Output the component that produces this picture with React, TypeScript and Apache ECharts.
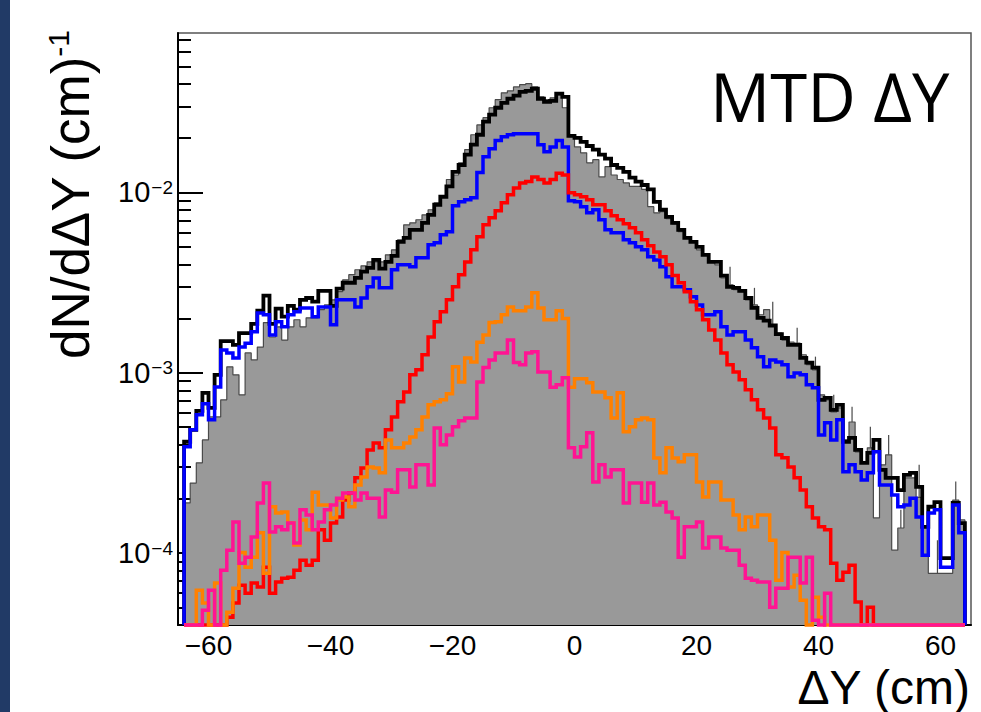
import React, { useEffect, useRef } from "react";
import * as echarts from "echarts";

// Histogram binning: 128 bins of 1 cm from -64 to 64
const BIN_LOW = -64;
const BIN_WIDTH = 1;

// Axis ranges
const X_MIN = -65;
const X_MAX = 65;
const Y_MIN = 4e-5;
const Y_MAX = 0.0766;

// Tick values
const xMajorTicks = [-60, -40, -20, 0, 20, 40, 60];
const xMinorTicks = [-55, -50, -45, -35, -30, -25, -15, -10, -5, 5, 10, 15, 25, 30, 35, 45, 50, 55];
const yMajorTicks = [1e-4, 1e-3, 1e-2];
const yMinorTicks = [
  5e-5, 6e-5, 7e-5, 8e-5, 9e-5,
  2e-4, 3e-4, 4e-4, 5e-4, 6e-4, 7e-4, 8e-4, 9e-4,
  2e-3, 3e-3, 4e-3, 5e-3, 6e-3, 7e-3, 8e-3, 9e-3,
  2e-2, 3e-2, 4e-2, 5e-2, 6e-2, 7e-2,
];

// Data histogram (grey filled)
const grayData = [
  1.90e-4, 2.45e-4, 3.17e-4, 4.25e-4, 5.70e-4, 5.70e-4, 7.09e-4, 1.08e-3, 9.75e-4, 7.55e-4,
  1.29e-3, 1.18e-3, 1.39e-3, 1.90e-3, 1.58e-3, 1.80e-3, 1.52e-3, 1.80e-3, 1.97e-3, 1.80e-3,
  2.02e-3, 2.02e-3, 2.24e-3, 2.38e-3, 2.54e-3, 2.82e-3, 3.28e-3, 3.50e-3, 3.73e-3, 3.92e-3,
  4.12e-3, 4.12e-3, 4.12e-3, 4.51e-3, 4.81e-3, 5.47e-3, 6.62e-3, 6.79e-3, 7.06e-3, 7.52e-3,
  8.02e-3, 8.77e-3, 9.47e-3, 1.18e-2, 1.25e-2, 1.46e-2, 1.73e-2, 2.09e-2, 2.37e-2, 2.60e-2,
  2.95e-2, 3.27e-2, 3.57e-2, 3.66e-2, 3.85e-2, 3.96e-2, 4.01e-2, 3.85e-2, 3.39e-2, 3.27e-2,
  3.35e-2, 3.48e-2, 2.95e-2, 2.04e-2, 1.79e-2, 1.66e-2, 1.46e-2, 1.52e-2, 1.22e-2, 1.39e-2,
  1.25e-2, 1.18e-2, 1.13e-2, 1.08e-2, 1.08e-2, 1.04e-2, 8.34e-3, 7.71e-3, 7.82e-3, 7.15e-3,
  6.70e-3, 6.06e-3, 5.60e-3, 5.33e-3, 4.81e-3, 4.51e-3, 4.12e-3, 3.97e-3, 3.36e-3, 3.08e-3,
  2.89e-3, 2.82e-3, 2.54e-3, 2.38e-3, 2.10e-3, 2.24e-3, 1.85e-3, 1.66e-3, 1.52e-3, 1.48e-3,
  1.46e-3, 1.26e-3, 1.11e-3, 1.04e-3, 7.55e-4, 7.09e-4, 6.08e-4, 6.40e-4, 4.25e-4, 5.34e-4,
  3.65e-4, 3.21e-4, 3.84e-4, 1.57e-4, 3.09e-4, 3.51e-4, 1.04e-4, 1.38e-4, 2.62e-4, 2.62e-4,
  2.04e-4, 1.40e-4, 7.74e-5, 7.74e-5, 7.74e-5, 7.74e-5, 1.97e-4, 1.53e-4,
];

// Upper ends of the data error bars that stick out: [bin index, upper value]
const grayErrTop: [number, number][] = [
  [89, 3.87e-3], [93, 2.96e-3], [96, 2.48e-3], [100, 1.78e-3], [103, 1.23e-3],
  [106, 7.55e-4], [109, 6.48e-4], [112, 5.02e-4], [115, 4.53e-4], [117, 1.74e-4],
  [120, 3.09e-4], [123, 1.18e-4], [126, 2.50e-4],
];

// Total (black)
const blackData = [
  4.15e-4, 4.83e-4, 6.16e-4, 7.75e-4, 6.40e-4, 9.75e-4, 1.50e-3, 1.50e-3, 1.43e-3, 1.66e-3,
  1.66e-3, 1.87e-3, 2.21e-3, 2.68e-3, 1.87e-3, 2.27e-3, 2.05e-3, 2.35e-3, 2.24e-3, 2.54e-3,
  2.60e-3, 2.48e-3, 2.85e-3, 2.85e-3, 2.35e-3, 2.93e-3, 3.16e-3, 3.16e-3, 3.36e-3, 3.64e-3,
  3.82e-3, 4.23e-3, 3.78e-3, 4.12e-3, 4.45e-3, 5.33e-3, 5.60e-3, 6.21e-3, 6.21e-3, 6.79e-3,
  7.52e-3, 8.55e-3, 9.47e-3, 1.08e-2, 1.30e-2, 1.42e-2, 1.62e-2, 1.84e-2, 2.09e-2, 2.47e-2,
  2.70e-2, 2.95e-2, 3.14e-2, 3.31e-2, 3.44e-2, 3.61e-2, 3.66e-2, 3.76e-2, 3.31e-2, 3.18e-2,
  3.22e-2, 3.53e-2, 3.39e-2, 2.06e-2, 2.01e-2, 1.91e-2, 1.81e-2, 1.73e-2, 1.62e-2, 1.54e-2,
  1.42e-2, 1.37e-2, 1.30e-2, 1.21e-2, 1.15e-2, 1.10e-2, 1.04e-2, 8.88e-3, 8.02e-3, 7.33e-3,
  6.79e-3, 6.21e-3, 5.60e-3, 5.33e-3, 5.00e-3, 4.51e-3, 4.12e-3, 4.12e-3, 3.46e-3, 3.00e-3,
  2.96e-3, 2.85e-3, 2.60e-3, 2.29e-3, 2.02e-3, 1.95e-3, 1.83e-3, 1.64e-3, 1.56e-3, 1.43e-3,
  1.43e-3, 1.21e-3, 1.14e-3, 1.07e-3, 7.09e-4, 7.27e-4, 6.24e-4, 6.65e-4, 4.15e-4, 4.36e-4,
  3.74e-4, 3.17e-4, 3.60e-4, 4.25e-4, 2.90e-4, 2.62e-4, 2.62e-4, 2.24e-4, 2.72e-4, 2.79e-4,
  2.33e-4, 1.40e-4, 1.81e-4, 1.92e-4, 9.40e-5, 9.40e-5, 1.90e-4, 1.47e-4,
];

// Blue component
const blueData = [
  3.89e-4, 4.83e-4, 5.85e-4, 6.74e-4, 5.49e-4, 8.36e-4, 1.34e-3, 1.29e-3, 1.21e-3, 1.39e-3,
  1.46e-3, 1.69e-3, 2.15e-3, 2.10e-3, 1.62e-3, 1.92e-3, 1.80e-3, 2.10e-3, 2.18e-3, 2.29e-3,
  2.29e-3, 2.05e-3, 2.32e-3, 2.32e-3, 1.85e-3, 2.54e-3, 2.54e-3, 2.54e-3, 2.32e-3, 2.60e-3,
  3.00e-3, 3.36e-3, 2.96e-3, 2.96e-3, 3.73e-3, 3.97e-3, 3.97e-3, 3.87e-3, 4.34e-3, 4.34e-3,
  5.13e-3, 5.26e-3, 5.83e-3, 6.06e-3, 8.45e-3, 8.88e-3, 9.11e-3, 9.35e-3, 1.29e-2, 1.58e-2,
  1.75e-2, 1.94e-2, 2.04e-2, 2.09e-2, 2.12e-2, 2.12e-2, 2.12e-2, 2.12e-2, 1.84e-2, 1.68e-2,
  1.79e-2, 1.94e-2, 1.79e-2, 8.99e-3, 8.88e-3, 8.34e-3, 7.71e-3, 8.02e-3, 7.06e-3, 6.21e-3,
  5.98e-3, 5.98e-3, 5.47e-3, 5.26e-3, 5.00e-3, 4.81e-3, 4.40e-3, 4.23e-3, 3.87e-3, 3.41e-3,
  3.00e-3, 3.00e-3, 2.89e-3, 2.64e-3, 2.38e-3, 2.10e-3, 2.10e-3, 2.18e-3, 1.80e-3, 1.62e-3,
  1.69e-3, 1.69e-3, 1.52e-3, 1.38e-3, 1.23e-3, 1.08e-3, 1.18e-3, 1.15e-3, 1.11e-3, 9.51e-4,
  9.98e-4, 9.75e-4, 8.58e-4, 8.26e-4, 4.53e-4, 5.29e-4, 4.25e-4, 5.49e-4, 2.83e-4, 3.09e-4,
  2.83e-4, 2.55e-4, 2.79e-4, 3.65e-4, 2.39e-4, 2.39e-4, 2.10e-4, 1.81e-4, 1.85e-4, 2.02e-4,
  1.59e-4, 9.75e-5, 1.67e-4, 1.74e-4, 8.36e-5, 8.36e-5, 1.85e-4, 1.30e-4,
];

// Red component
const redData = [
  0, 0, 0, 0, 0, 0, 0, 4.41e-5, 5.29e-5, 6.65e-5,
  6.00e-5, 6.83e-5, 6.49e-5, 8.36e-5, 6.00e-5, 6.92e-5, 7.27e-5, 7.37e-5, 8.05e-5, 9.15e-5,
  8.58e-5, 9.15e-5, 1.35e-4, 1.18e-4, 1.47e-4, 1.59e-4, 1.97e-4, 2.16e-4, 2.62e-4, 2.97e-4,
  3.74e-4, 4.09e-4, 3.84e-4, 4.83e-4, 5.70e-4, 6.91e-4, 7.84e-4, 9.75e-4, 1.04e-3, 1.26e-3,
  1.58e-3, 1.92e-3, 2.18e-3, 2.54e-3, 3.00e-3, 3.50e-3, 4.12e-3, 4.81e-3, 5.68e-3, 6.62e-3,
  7.24e-3, 7.92e-3, 8.77e-3, 9.71e-3, 1.06e-2, 1.13e-2, 1.15e-2, 1.22e-2, 1.18e-2, 1.13e-2,
  1.18e-2, 1.28e-2, 1.25e-2, 9.97e-3, 9.71e-3, 9.47e-3, 9.11e-3, 8.55e-3, 8.55e-3, 7.92e-3,
  7.42e-3, 7.06e-3, 6.70e-3, 6.38e-3, 5.98e-3, 5.47e-3, 5.07e-3, 4.68e-3, 4.40e-3, 3.97e-3,
  3.46e-3, 3.16e-3, 2.82e-3, 2.48e-3, 2.24e-3, 1.97e-3, 1.73e-3, 1.52e-3, 1.29e-3, 1.11e-3,
  1.01e-3, 9.15e-4, 8.05e-4, 7.09e-4, 6.24e-4, 5.62e-4, 4.95e-4, 3.51e-4, 3.38e-4, 3.01e-4,
  2.62e-4, 2.24e-4, 1.81e-4, 1.57e-4, 1.40e-4, 1.35e-4, 8.81e-5, 7.09e-5, 7.84e-5, 8.58e-5,
  5.36e-5, 0, 5.02e-5, 0, 0, 0, 0, 0, 0, 0,
  0, 0, 0, 0, 0, 0, 0, 0,
];

// Orange component
const orangeData = [
  0, 0, 6.24e-5, 5.29e-5, 0, 6.83e-5, 0, 4.71e-5, 6.40e-5, 1.01e-4,
  8.36e-5, 9.51e-5, 1.30e-4, 7.74e-5, 1.81e-4, 1.67e-4, 1.69e-4, 1.47e-4, 1.11e-4, 1.53e-4,
  1.35e-4, 2.18e-4, 1.85e-4, 1.85e-4, 1.57e-4, 1.97e-4, 2.05e-4, 1.81e-4, 2.39e-4, 2.65e-4,
  3.01e-4, 2.97e-4, 2.79e-4, 4.25e-4, 3.84e-4, 3.84e-4, 4.09e-4, 4.41e-4, 4.83e-4, 5.70e-4,
  6.65e-4, 6.91e-4, 7.09e-4, 7.65e-4, 1.08e-3, 8.91e-4, 1.21e-3, 1.15e-3, 1.48e-3, 1.62e-3,
  1.90e-3, 1.92e-3, 2.10e-3, 2.32e-3, 2.21e-3, 2.21e-3, 2.32e-3, 2.78e-3, 2.29e-3, 1.97e-3,
  1.97e-3, 2.21e-3, 2.00e-3, 8.33e-4, 9.27e-4, 9.27e-4, 8.81e-4, 7.84e-4, 7.84e-4, 7.27e-4,
  5.62e-4, 7.75e-4, 4.71e-4, 5.02e-4, 5.49e-4, 5.62e-4, 5.49e-4, 3.37e-4, 2.79e-4, 3.84e-4,
  3.37e-4, 3.21e-4, 3.51e-4, 3.51e-4, 2.48e-4, 2.05e-4, 2.48e-4, 2.48e-4, 1.97e-4, 1.97e-4,
  1.63e-4, 1.35e-4, 1.59e-4, 1.40e-4, 1.63e-4, 1.63e-4, 1.18e-4, 7.09e-5, 1.01e-4, 6.49e-5,
  7.55e-5, 5.49e-5, 0, 5.70e-5, 4.41e-5, 0, 0, 0, 0, 0,
  0, 0, 0, 0, 0, 0, 0, 0, 0, 0,
  0, 0, 0, 0, 0, 0, 0, 0,
];

// Pink component
const pinkData = [
  0, 0, 0, 4.83e-5, 6.24e-5, 0, 8.05e-5, 1.04e-4, 1.49e-4, 8.81e-5,
  9.51e-5, 1.23e-4, 1.90e-4, 2.45e-4, 1.31e-4, 1.40e-4, 1.35e-4, 1.47e-4, 1.14e-4, 1.74e-4,
  1.63e-4, 1.35e-4, 1.49e-4, 1.74e-4, 1.85e-4, 2.02e-4, 2.16e-4, 2.16e-4, 1.97e-4, 2.16e-4,
  2.02e-4, 2.02e-4, 1.59e-4, 2.24e-4, 2.18e-4, 2.90e-4, 2.90e-4, 2.33e-4, 3.09e-4, 3.09e-4,
  2.39e-4, 4.95e-4, 3.99e-4, 4.53e-4, 5.02e-4, 5.42e-4, 5.62e-4, 5.62e-4, 8.91e-4, 1.07e-3,
  1.18e-3, 1.29e-3, 1.29e-3, 1.52e-3, 1.14e-3, 1.11e-3, 1.29e-3, 1.31e-3, 1.01e-3, 1.01e-3,
  8.33e-4, 8.58e-4, 9.38e-4, 3.84e-4, 3.42e-4, 3.89e-4, 4.65e-4, 2.48e-4, 3.09e-4, 2.65e-4,
  2.90e-4, 2.90e-4, 1.90e-4, 2.45e-4, 2.45e-4, 1.92e-4, 2.45e-4, 1.85e-4, 1.92e-4, 1.69e-4,
  1.57e-4, 9.51e-5, 1.40e-4, 1.40e-4, 1.49e-4, 1.07e-4, 1.23e-4, 1.23e-4, 1.07e-4, 1.04e-4,
  1.04e-4, 8.58e-5, 7.27e-5, 7.09e-5, 6.92e-5, 6.92e-5, 5.02e-5, 6.40e-5, 6.40e-5, 9.51e-5,
  9.51e-5, 6.83e-5, 9.51e-5, 4.25e-5, 0, 6.00e-5, 0, 0, 0, 0,
  0, 0, 0, 0, 0, 0, 0, 0, 0, 0,
  0, 0, 0, 0, 0, 0, 0, 0,
];

const FONT = "'Liberation Sans', Arial, Helvetica, sans-serif";

// Empty bins of a log-scale histogram are drawn on the lower frame edge (as ROOT does)
function clampLow(v: number) {
  return v > Y_MIN ? v : Y_MIN;
}

// Step outline of a histogram: left edges + closing drop at both ends
function histPoints(vals: number[]) {
  const pts: number[][] = [[BIN_LOW, Y_MIN]];
  vals.forEach((v, i) => pts.push([BIN_LOW + i * BIN_WIDTH, clampLow(v)]));
  const end = BIN_LOW + vals.length * BIN_WIDTH;
  pts.push([end, clampLow(vals[vals.length - 1])]);
  pts.push([end, Y_MIN]);
  return pts;
}

function histSeries(name: string, vals: number[], color: string, width: number) {
  return {
    name,
    type: "line",
    step: "end",
    data: histPoints(vals),
    symbol: "none",
    clip: false,
    silent: true,
    lineStyle: { color, width, join: "miter" },
  };
}

function minusFmt(v: number) {
  return v < 0 ? "\u2212" + Math.abs(v) : String(v);
}

function buildOption() {
  const errData = grayErrTop.map(([i, top]) => {
    const v = grayData[i];
    const lo = Math.max(2 * v - top, Y_MIN);
    return [BIN_LOW + (i + 0.5) * BIN_WIDTH, lo, top];
  });

  return {
    animation: false,
    backgroundColor: "#ffffff",
    grid: {
      left: 178,
      right: 10,
      top: 33,
      bottom: 87,
      show: true,
      borderColor: "#555555",
      borderWidth: 1.5,
      backgroundColor: "transparent",
    },
    xAxis: [
      {
        type: "value",
        position: "bottom",
        min: X_MIN,
        max: X_MAX,
        axisLine: { show: true, onZero: false, lineStyle: { color: "#000", width: 2 } },
        axisTick: {
          show: true,
          inside: true,
          length: 17,
          customValues: xMajorTicks,
          lineStyle: { color: "#000", width: 2 },
        },
        axisLabel: {
          show: true,
          customValues: xMajorTicks,
          formatter: (v: number) => minusFmt(v),
          fontFamily: FONT,
          fontSize: 28,
          lineHeight: 24,
          color: "#000",
          margin: 8,
        },
        splitLine: { show: false },
      },
      {
        type: "value",
        position: "bottom",
        min: X_MIN,
        max: X_MAX,
        axisLine: { show: false, onZero: false },
        axisTick: {
          show: true,
          inside: true,
          length: 9,
          customValues: xMinorTicks,
          lineStyle: { color: "#000", width: 2 },
        },
        axisLabel: { show: false },
        splitLine: { show: false },
      },
    ],
    yAxis: [
      {
        type: "log",
        logBase: 10,
        position: "left",
        min: Y_MIN,
        max: Y_MAX,
        axisLine: { show: true, onZero: false, lineStyle: { color: "#000", width: 2 } },
        axisTick: {
          show: true,
          inside: true,
          length: 25,
          customValues: yMajorTicks,
          lineStyle: { color: "#000", width: 2 },
        },
        axisLabel: {
          show: true,
          customValues: yMajorTicks,
          margin: 5,
          formatter: (v: number) => {
            const e = Math.round(Math.log10(v));
            return `{b|10}{s|${minusFmt(e)}}`;
          },
          rich: {
            b: { fontFamily: FONT, fontSize: 29, color: "#000" },
            s: { fontFamily: FONT, fontSize: 19, color: "#000", verticalAlign: "top", padding: [0, 0, 0, 1] },
          },
        },
        splitLine: { show: false },
      },
      {
        type: "log",
        logBase: 10,
        position: "left",
        min: Y_MIN,
        max: Y_MAX,
        axisLine: { show: false, onZero: false },
        axisTick: {
          show: true,
          inside: true,
          length: 13,
          customValues: yMinorTicks,
          lineStyle: { color: "#000", width: 2 },
        },
        axisLabel: { show: false },
        splitLine: { show: false },
      },
    ],
    graphic: [
      {
        type: "rect",
        shape: { x: 0, y: 0, width: 10, height: 712 },
        style: { fill: "#213a66" },
        silent: true,
      },
      {
        type: "text",
        x: 710,
        y: 96,
        style: {
          text: "MTD \u0394Y",
          fontFamily: "'Open Sans', 'Noto Sans', sans-serif",
          fontSize: 67,
          fill: "#000",
          align: "left",
          verticalAlign: "middle",
        },
        silent: true,
      },
      {
        type: "text",
        x: 970,
        y: 687,
        style: {
          text: "\u0394Y (cm)",
          fontFamily: FONT,
          fontSize: 48,
          lineHeight: 40,
          fill: "#000",
          align: "right",
          verticalAlign: "middle",
        },
        silent: true,
      },
      {
        type: "text",
        x: 70,
        y: 30,
        rotation: Math.PI / 2,
        style: {
          text: "{m|dN/d\u0394Y (cm)}{s|-1}",
          align: "right",
          verticalAlign: "middle",
          rich: {
            m: { fontFamily: FONT, fontSize: 53, fill: "#000" },
            s: { fontFamily: FONT, fontSize: 30, fill: "#000", verticalAlign: "top" },
          },
        },
        silent: true,
      },
    ],
    series: [
      {
        name: "data",
        type: "line",
        step: "end",
        data: histPoints(grayData),
        symbol: "none",
        clip: false,
        silent: true,
        lineStyle: { color: "#4a4a4a", width: 1.2 },
        areaStyle: { color: "#999999", opacity: 1, origin: "start" },
      },
      {
        name: "data errors",
        type: "custom",
        silent: true,
        clip: false,
        data: errData,
        encode: { x: 0, y: [1, 2] },
        renderItem: (params: any, api: any) => {
          const x = api.value(0);
          const p1 = api.coord([x, api.value(1)]);
          const p2 = api.coord([x, api.value(2)]);
          return {
            type: "line",
            shape: { x1: p1[0], y1: p1[1], x2: p2[0], y2: p2[1] },
            style: { stroke: "#4a4a4a", lineWidth: 1.2 },
          };
        },
      },
      histSeries("total", blackData, "#000000", 3.8),
      histSeries("blue", blueData, "#0000ff", 3.5),
      histSeries("red", redData, "#ff0000", 3.5),
      histSeries("orange", orangeData, "#ff8000", 3.5),
      histSeries("pink", pinkData, "#ff1493", 3.5),
    ],
  };
}

export default function App() {
  const ref = useRef<HTMLDivElement>(null);
  useEffect(() => {
    if (!ref.current) return;
    const chart = echarts.init(ref.current, null, { renderer: "svg" });
    chart.setOption(buildOption() as any);
    return () => chart.dispose();
  }, []);
  return (
    <div
      ref={ref}
      style={{ position: "fixed", left: 0, top: 0, width: 981, height: 712, background: "#ffffff" }}
    />
  );
}
